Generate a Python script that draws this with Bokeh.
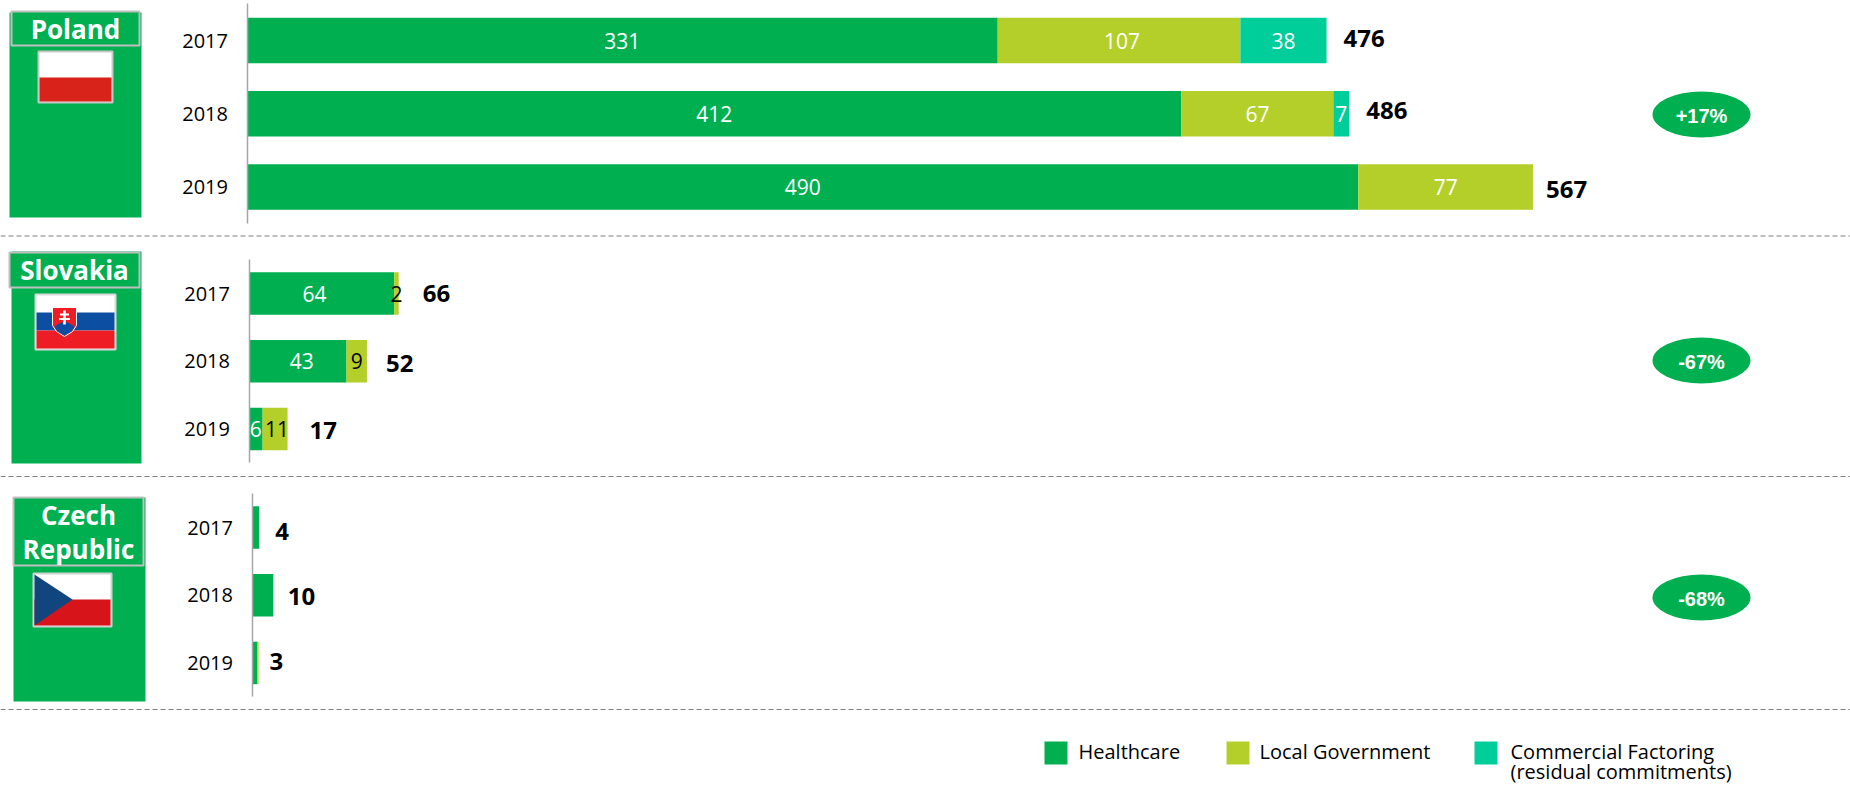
from bokeh.plotting import figure
from bokeh.layouts import column
from bokeh.models import Range1d, LinearAxis, FixedTicker, ColumnDataSource
from bokeh.core.properties import value
from bokeh.embed import file_html
from bokeh.resources import INLINE

years = ["2017", "2018", "2019"]
poland_healthcare = [331, 412, 490]
poland_local = [107, 67, 77]
poland_factoring = [38, 7, 0]
poland_totals = [476, 486, 567]
slovakia_healthcare = [64, 43, 6]
slovakia_local = [2, 9, 11]
slovakia_factoring = [0, 0, 0]
slovakia_totals = [66, 52, 17]
czech_healthcare = [3.2, 9.3, 2.4]
czech_local = [0, 0.3, 0.5]
czech_factoring = [0, 0, 0]
czech_totals = [4, 10, 3]
changes = ["+17%", "-67%", "-68%"]
series_names = ["Healthcare", "Local Government", "Commercial Factoring"]

GREEN, LIME, TEAL = "#00B050", "#B4CF2A", "#00CE9A"
FONT = "Open Sans"
PX = 2.268
W = 1850
LABEL_NUDGE = {("S", 64): -7, ("S", 43): 4, ("S", 11): 2, ("P", 107): 3}


def section(key, name_lines, hc, lg, cf, totals, change, top, bottom, base, c0, pitch, bar_px,
            total_gaps, total_dy, seg_colors, dash_y, panel, box, label_ys, change_y):
    fig = figure(width=W, height=bottom - top, toolbar_location=None, output_backend="svg",
                 x_axis_location=None, y_axis_location=None, min_border=0,
                 x_range=Range1d(-base / PX, (W - base) / PX),
                 y_range=Range1d((bottom - c0) / pitch, (top - c0) / pitch),
                 outline_line_color=None, background_fill_color="white")
    fig.grid.visible = False

    def X(px):
        return (px - base) / PX

    def Y(py):
        return (py - c0) / pitch

    def rect(l, r, t, b, color, line=None, lw=0):
        fig.quad(left=X(l), right=X(r), top=Y(t), bottom=Y(b), fill_color=color,
                 line_color=line, line_width=lw)

    # dashed divider
    fig.line([X(0), X(W)], [Y(dash_y), Y(dash_y)], line_color="#808080", line_width=1.2, line_dash="5 3")
    # country panel
    rect(*panel, GREEN)
    rect(*box, GREEN, "#BFBFBF", 2)
    for line, ly in zip(name_lines, label_ys):
        fig.text([X((box[0] + box[1]) / 2)], [Y(ly)], text=[line], text_color="white",
                 text_font=value(FONT), text_font_size="26px", text_font_style="bold",
                 text_align="center", text_baseline="middle")

    # stacked bars
    rows = list(range(len(years)))
    s1 = [a + b for a, b in zip(hc, lg)]
    s2 = [a + b for a, b in zip(s1, cf)]
    h = bar_px / pitch
    fig.hbar(y=rows, left=[0] * 3, right=hc, height=h, fill_color=GREEN, line_color=None)
    fig.hbar(y=rows, left=hc, right=s1, height=h, fill_color=LIME, line_color=None)
    fig.hbar(y=rows, left=s1, right=s2, height=h, fill_color=TEAL, line_color=None)

    # axis
    ax = LinearAxis(ticker=FixedTicker(ticks=rows), fixed_location=0, bounds=(-0.5, 2.5),
                    major_label_overrides=dict(zip(rows, years)),
                    axis_line_color="#A6A6A6", axis_line_width=1.5,
                    major_tick_line_color=None, minor_tick_line_color=None,
                    major_tick_out=0, major_tick_in=0,
                    major_label_standoff=19, major_label_text_font=FONT,
                    major_label_text_font_size="20px", major_label_text_color="#000000")
    fig.add_layout(ax, "left")

    # segment labels
    if seg_colors:
        xs, ys, tx, cs, nudges = [], [], [], [], []
        for i in rows:
            start = 0
            for v, c in zip((hc[i], lg[i], cf[i]), seg_colors):
                if v > 0:
                    xs.append(start + v / 2)
                    ys.append(i)
                    tx.append(str(v))
                    cs.append(c[i])
                    nudges.append(LABEL_NUDGE.get((key, v), 0))
                start += v
        fig.text(xs, ys, text=tx, text_color=cs, x_offset=nudges, text_font=value(FONT), text_font_size="21px",
                 text_align="center", text_baseline="middle")

    # totals
    src = ColumnDataSource(dict(x=s2, y=rows, t=[str(v) for v in totals], g=total_gaps, d=total_dy))
    fig.text("x", "y", text="t", x_offset="g", y_offset="d", source=src, text_color="#000000",
             text_font=value(FONT), text_font_size="24px", text_font_style="bold",
             text_align="left", text_baseline="middle")

    # change oval
    fig.ellipse([X(1701)], [Y(change_y)], width=98 / PX, height=46 / pitch, fill_color=GREEN, line_color=None)
    fig.text([X(1701)], [Y(change_y + 1)], text=[change], text_color="white",
             text_font=value("Liberation Sans"), text_font_size="20px", text_font_style="bold",
             text_align="center", text_baseline="middle")
    return fig, X, Y, rect


WH = ["white"] * 3
BK = ["#000000"] * 3

f1, X, Y, rect = section("P", ["Poland"], poland_healthcare, poland_local, poland_factoring, poland_totals,
                         changes[0], 0, 237, 246.5, 40, 73.25, 45.3, [17, 17, 13], [-2, -3, 2],
                         [WH, WH, WH], 235.5, (9, 141, 12, 217), (11, 139, 11, 45), [28], 114)
rect(38, 112, 51, 102, "#FFFFFF", "#C8C8C8", 2)
rect(39, 111, 77, 101, "#D8231A")

f2, X, Y, rect = section("S", ["Slovakia"], slovakia_healthcare, slovakia_local, slovakia_factoring, slovakia_totals,
                         changes[1], 237, 477, 248.5, 293, 67.75, 42.5, [24, 19, 22], [0, 2, 1],
                         [WH, BK, WH], 476, (11, 141, 251, 463), (9, 139, 252, 287), [269], 360)
rect(35, 115, 294, 349, "#FFFFFF", "#D9D9D9", 2)
rect(36, 114, 312, 330, "#0B4EA2")
rect(36, 114, 330, 348, "#EE1C25")
f2.patch([X(v) for v in (52, 76, 76, 72, 64, 56, 52)], [Y(v) for v in (307, 307, 325, 331, 336, 331, 325)],
         fill_color="#EE1C25", line_color="white", line_width=1)
f2.patch([X(v) for v in (54, 59, 64, 69, 74, 71, 64, 57)], [Y(v) for v in (326, 323, 321, 323, 326, 331, 335, 331)],
         fill_color="#0B4EA2", line_color=None)
rect(62.7, 65.3, 310, 324, "white")
rect(59.5, 68.5, 313, 315, "white")
rect(58.5, 69.5, 317.5, 319.5, "white")

f3, X, Y, rect = section("C", ["Czech", "Republic"], czech_healthcare, czech_local, czech_factoring, czech_totals,
                         changes[2], 477, 785, 251.5, 527, 67.7, 42.5, [16, 14, 11], [4, 1, -1],
                         None, 709, (13, 145, 497, 701), (13, 143, 497, 565), [514, 548], 597)
rect(33, 111, 573, 626, "#FFFFFF", "#D0D0D0", 2)
rect(34, 110, 599, 625, "#D7141A")
f3.patch([X(34), X(72), X(34)], [Y(574), Y(599), Y(625)], fill_color="#11457E", line_color=None)

# legend
for (l, color, name, tx) in zip((1044, 1226, 1474), (GREEN, LIME, TEAL), series_names, (1078, 1259, 1510)):
    rect(l, l + 23, 741, 764, color)
    f3.text([X(tx)], [Y(751)], text=[name], text_color="#000000", text_font=value(FONT),
            text_font_size="20px", text_align="left", text_baseline="middle")
f3.text([X(1510)], [Y(771)], text=["(residual commitments)"], text_color="#000000", text_font=value(FONT),
        text_font_size="20px", text_align="left", text_baseline="middle")

page = column(f1, f2, f3, spacing=0)
open("out.html", "w").write(file_html(page, INLINE))
